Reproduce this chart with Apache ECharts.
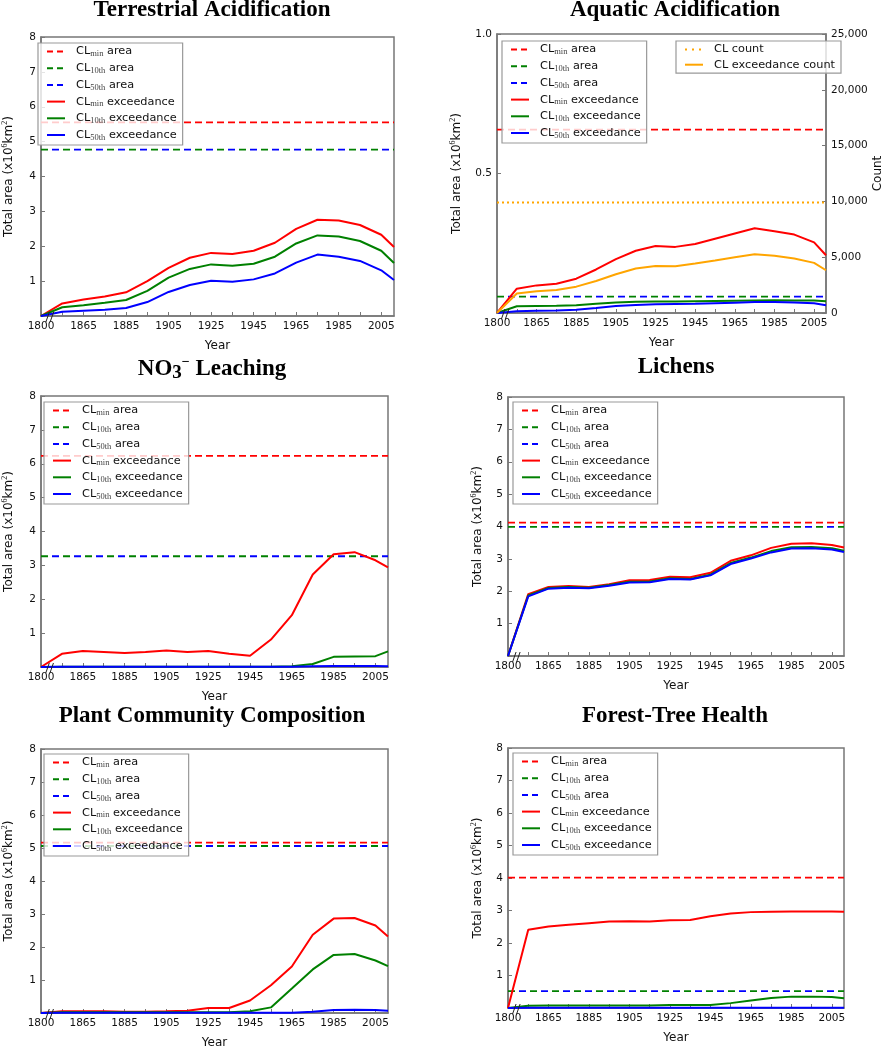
<!DOCTYPE html>
<html>
<head>
<meta charset="utf-8">
<script src="https://cdn.jsdelivr.net/npm/echarts@6/dist/echarts.min.js"></script>
<style>
html,body{margin:0;padding:0;background:#fff;}
#chart{width:885px;height:1050px;}
</style>
</head>
<body>
<div id="chart"></div>
<script>
// ---------- DATA ----------
const years = [1800, 1855, 1865, 1875, 1885, 1895, 1905, 1915, 1925, 1935, 1945, 1955, 1965, 1975, 1985, 1995, 2005, 2011];
const xTickLabels = [1800, 1865, 1885, 1905, 1925, 1945, 1965, 1985, 2005];

const titles = ['Terrestrial Acidification', 'Aquatic Acidification', 'NO3 Leaching', 'Lichens', 'Plant Community Composition', 'Forest-Tree Health'];

// Terrestrial Acidification
const taMin = [0, 0.36, 0.47, 0.56, 0.68, 1.00, 1.38, 1.67, 1.81, 1.78, 1.87, 2.10, 2.50, 2.76, 2.74, 2.61, 2.33, 1.98];
const ta10 = [0, 0.25, 0.31, 0.38, 0.46, 0.72, 1.10, 1.35, 1.48, 1.44, 1.50, 1.70, 2.08, 2.31, 2.28, 2.15, 1.87, 1.52];
const ta50 = [0, 0.12, 0.15, 0.18, 0.23, 0.40, 0.69, 0.89, 1.01, 0.98, 1.05, 1.22, 1.53, 1.76, 1.70, 1.58, 1.31, 1.03];
const taArea = [5.55, 4.77, 4.77];

// Aquatic Acidification
const aaMin = [0, 0.087, 0.099, 0.105, 0.123, 0.156, 0.193, 0.223, 0.240, 0.237, 0.247, 0.266, 0.285, 0.304, 0.293, 0.281, 0.253, 0.207];
const aa10 = [0, 0.024, 0.025, 0.026, 0.028, 0.033, 0.038, 0.040, 0.041, 0.041, 0.042, 0.043, 0.044, 0.045, 0.046, 0.045, 0.045, 0.042];
const aa50 = [0, 0.006, 0.008, 0.009, 0.012, 0.018, 0.025, 0.029, 0.031, 0.032, 0.033, 0.035, 0.037, 0.039, 0.039, 0.038, 0.035, 0.028];
const aaArea = [0.657, 0.059, 0.059];
const aaCount = 9900;
const aaExceedCount = [0, 1740, 1950, 2070, 2360, 2870, 3470, 3980, 4220, 4190, 4430, 4700, 5000, 5270, 5120, 4880, 4490, 3830];

// NO3- Leaching
const noMin = [0, 0.39, 0.47, 0.44, 0.41, 0.44, 0.49, 0.44, 0.47, 0.39, 0.33, 0.81, 1.53, 2.73, 3.33, 3.39, 3.15, 2.94];
const no10 = [0, 0.01, 0.01, 0.01, 0.01, 0.01, 0.01, 0.01, 0.01, 0.01, 0.01, 0.01, 0.02, 0.09, 0.30, 0.31, 0.32, 0.46];
const no50 = [0, 0.01, 0.01, 0.01, 0.01, 0.01, 0.01, 0.01, 0.01, 0.01, 0.01, 0.01, 0.01, 0.02, 0.03, 0.03, 0.03, 0.02];
const noArea = [6.23, 3.27, 3.27];

// Lichens
const liMin = [0, 1.91, 2.13, 2.16, 2.13, 2.22, 2.34, 2.35, 2.45, 2.43, 2.57, 2.94, 3.11, 3.34, 3.47, 3.48, 3.43, 3.35];
const li10 = [0, 1.87, 2.10, 2.13, 2.11, 2.19, 2.29, 2.30, 2.40, 2.38, 2.51, 2.87, 3.04, 3.24, 3.36, 3.37, 3.33, 3.25];
const li50 = [0, 1.84, 2.08, 2.11, 2.09, 2.17, 2.27, 2.28, 2.38, 2.36, 2.49, 2.84, 3.01, 3.20, 3.32, 3.33, 3.29, 3.21];
const liArea = [4.12, 3.99, 3.99];

// Plant Community Composition
const pcMin = [0, 0.05, 0.05, 0.05, 0.04, 0.04, 0.05, 0.07, 0.15, 0.15, 0.38, 0.84, 1.41, 2.37, 2.86, 2.88, 2.65, 2.32];
const pc10 = [0, 0.02, 0.02, 0.02, 0.02, 0.02, 0.02, 0.02, 0.02, 0.02, 0.05, 0.17, 0.74, 1.32, 1.76, 1.79, 1.59, 1.42];
const pc50 = [0, 0.01, 0.01, 0.01, 0.01, 0.01, 0.01, 0.01, 0.01, 0.01, 0.01, 0.01, 0.01, 0.04, 0.09, 0.10, 0.09, 0.07];
const pcArea = [5.16, 5.06, 5.06];

// Forest-Tree Health
const ftMin = [0, 2.41, 2.51, 2.56, 2.61, 2.66, 2.67, 2.66, 2.70, 2.71, 2.82, 2.91, 2.95, 2.96, 2.97, 2.97, 2.97, 2.96];
const ft10 = [0, 0.07, 0.08, 0.08, 0.08, 0.08, 0.08, 0.08, 0.09, 0.09, 0.09, 0.15, 0.23, 0.31, 0.35, 0.35, 0.34, 0.30];
const ft50 = [0, 0.01, 0.01, 0.01, 0.01, 0.01, 0.01, 0.01, 0.01, 0.01, 0.01, 0.01, 0.01, 0.01, 0.01, 0.01, 0.01, 0.01];
const ftArea = [4.01, 0.52, 0.52];

// ---------- LAYOUT / STYLE ----------
const RED = '#ff0000', GREEN = '#008000', BLUE = '#0000ff', ORANGE = '#ffa500';
const AXIS_GRAY = '#777';
const SANS = 'DejaVu Sans';
const SERIF = 'Liberation Serif';

// broken axis: 1800 is drawn where 1845 would be
const BREAK_POS = 1845;
const xPos = y => (y === 1800 ? BREAK_POS : y);
const X_MAX = 2011;

const panels = [
  {grid: {left: 33, top: 37, width: 361, height: 279}, title: {x: 207, y: -6}, legend: {left: 38, top: 43}, min: taMin, p10: ta10, p50: ta50, area: taArea, ymax: 8, yint: 1, yNameGap: 24},
  {grid: {left: 497, top: 34, width: 335, height: 279}, title: {x: 670, y: -6}, legend: {left: 502, top: 41}, min: aaMin, p10: aa10, p50: aa50, area: aaArea, ymax: 1, yint: 0.5, yNameGap: 32, aquatic: true},
  {grid: {left: 39, top: 396, width: 349, height: 271}, title: {x: 207, y: 350}, legend: {left: 44, top: 402}, min: noMin, p10: no10, p50: no50, area: noArea, ymax: 8, yint: 1, yNameGap: 24, no3: true},
  {grid: {left: 508, top: 397, width: 336, height: 259}, title: {x: 671, y: 351}, legend: {left: 513, top: 402}, min: liMin, p10: li10, p50: li50, area: liArea, ymax: 8, yint: 1, yNameGap: 22},
  {grid: {left: 39, top: 749, width: 349, height: 270}, title: {x: 207, y: 700}, legend: {left: 44, top: 754}, min: pcMin, p10: pc10, p50: pc50, area: pcArea, ymax: 8, yint: 1, yNameGap: 24},
  {grid: {left: 508, top: 748, width: 336, height: 260}, title: {x: 670, y: 700}, legend: {left: 513, top: 753}, min: ftMin, p10: ft10, p50: ft50, area: ftArea, ymax: 8, yint: 1, yNameGap: 22}
];

const legendLabels = {
  minArea: '{t|CL}{s|min}{t| area}',
  p10Area: '{t|CL}{s|10th}{t| area}',
  p50Area: '{t|CL}{s|50th}{t| area}',
  minExc: '{t|CL}{s|min}{t| exceedance}',
  p10Exc: '{t|CL}{s|10th}{t| exceedance}',
  p50Exc: '{t|CL}{s|50th}{t| exceedance}',
  count: '{t|CL count}',
  countExc: '{t|CL exceedance count}'
};

const legendRich = {
  t: {fontFamily: SANS, fontSize: 11.3, color: '#111', lineHeight: 14, verticalAlign: 'middle'},
  s: {fontFamily: SERIF, fontSize: 8.5, color: '#444', lineHeight: 14, verticalAlign: 'bottom'}
};

const xTicks = [];
for (let y = BREAK_POS; y <= 2005; y += 10) xTicks.push(y);

const grids = [], xAxes = [], yAxes = [], series = [], legends = [], titleOpts = [];

function lineData(vals) { return years.map((y, i) => [xPos(y), vals[i]]); }
function flatData(v) { return [[xPos(1800), v], [X_MAX, v]]; }

const legendBase = {
  orient: 'vertical', itemWidth: 18, itemHeight: 10, itemGap: 4.2, padding: [3, 6, 3, 8],
  backgroundColor: 'rgba(255,255,255,0.8)', borderColor: '#999', borderWidth: 1.2, borderRadius: 0,
  selectedMode: false, itemStyle: {opacity: 0},
  textStyle: {padding: [0, 0, 0, 6], rich: legendRich}
};

panels.forEach((p, gi) => {
  grids.push(Object.assign({show: true, borderColor: AXIS_GRAY, borderWidth: 1.5, backgroundColor: 'transparent'}, p.grid));
  const name = titles[gi];
  if (p.no3) {
    titleOpts.push({text: '{t|NO}{s|3}{p|\u2212}{t| Leaching}', left: p.title.x, top: p.title.y, textAlign: 'center',
      textStyle: {rich: {
        t: {fontFamily: SERIF, fontWeight: 'bold', fontSize: 23, color: '#000', lineHeight: 28, verticalAlign: 'middle'},
        s: {fontFamily: SERIF, fontWeight: 'bold', fontSize: 19, color: '#000', lineHeight: 28, verticalAlign: 'bottom'},
        p: {fontFamily: SERIF, fontWeight: 'bold', fontSize: 14, color: '#000', lineHeight: 28, verticalAlign: 'top'}
      }}});
  } else {
    titleOpts.push({text: name, left: p.title.x, top: p.title.y, textAlign: 'center',
      textStyle: {fontFamily: SERIF, fontWeight: 'bold', fontSize: 23, color: '#000'}});
  }

  const xi = xAxes.length;
  xAxes.push({
    type: 'value', gridIndex: gi, min: BREAK_POS, max: X_MAX,
    name: 'Year', nameLocation: 'middle', nameGap: 24,
    nameTextStyle: {fontFamily: SANS, fontSize: 12, color: '#111'},
    axisLine: {show: true, lineStyle: {color: AXIS_GRAY, width: 1.5}},
    axisTick: {show: true, inside: true, length: 4, customValues: xTicks, lineStyle: {color: AXIS_GRAY}},
    axisLabel: {customValues: xTickLabels.map(xPos), formatter: v => (v === BREAK_POS ? '1800' : String(v)),
      fontFamily: SANS, fontSize: 10.5, color: '#111', margin: 5},
    splitLine: {show: false}
  });

  const yi = yAxes.length;
  yAxes.push({
    type: 'value', gridIndex: gi, min: 0, max: p.ymax, interval: p.yint, position: 'left',
    name: '{t|Total area (x10}{p|6}{t|km}{p|2}{t|)}', nameLocation: 'middle', nameGap: p.yNameGap, nameRotate: 90,
    nameTextStyle: {rich: {
      t: {fontFamily: SANS, fontSize: 12, color: '#111', lineHeight: 16, verticalAlign: 'middle'},
      p: {fontFamily: SERIF, fontSize: 8, color: '#111', lineHeight: 16, verticalAlign: 'top'}
    }},
    axisLine: {show: true, lineStyle: {color: AXIS_GRAY, width: 1.5}},
    axisTick: {show: true, inside: true, length: 4, lineStyle: {color: AXIS_GRAY}},
    axisLabel: {fontFamily: SANS, fontSize: 10.5, color: '#111', margin: 5,
      formatter: v => (v === 0 ? '' : (p.aquatic ? v.toFixed(1) : String(v)))},
    splitLine: {show: false}
  });

  const pre = 'p' + gi + '_';
  const keys = ['minArea', 'p10Area', 'p50Area', 'minExc', 'p10Exc', 'p50Exc'];
  const common = {type: 'line', xAxisIndex: xi, yAxisIndex: yi, symbol: 'none', silent: true, animation: false};
  series.push(Object.assign({name: pre + 'minArea', data: flatData(p.area[0]), lineStyle: {color: RED, width: 1.8, type: [7, 4]}, itemStyle: {color: RED}}, common));
  series.push(Object.assign({name: pre + 'p10Area', data: flatData(p.area[1]), lineStyle: {color: GREEN, width: 1.8, type: [7, 15]}, itemStyle: {color: GREEN}}, common));
  series.push(Object.assign({name: pre + 'p50Area', data: flatData(p.area[2]), lineStyle: {color: BLUE, width: 1.8, type: [7, 15], dashOffset: 11}, itemStyle: {color: BLUE}}, common));
  series.push(Object.assign({name: pre + 'minExc', data: lineData(p.min), lineStyle: {color: RED, width: 2}, itemStyle: {color: RED}}, common));
  series.push(Object.assign({name: pre + 'p10Exc', data: lineData(p.p10), lineStyle: {color: GREEN, width: 2}, itemStyle: {color: GREEN}}, common));
  series.push(Object.assign({name: pre + 'p50Exc', data: lineData(p.p50), lineStyle: {color: BLUE, width: 2}, itemStyle: {color: BLUE}}, common));

  const legendData = keys.map(k => {
    const d = {name: pre + k};
    d.lineStyle = k.endsWith('Area') ? {type: [6, 4], dashOffset: 0} : {type: 'solid'};
    return d;
  });
  legends.push(Object.assign({}, legendBase, {
    left: p.legend.left, top: p.legend.top, data: legendData,
    formatter: n => legendLabels[n.slice(pre.length)]
  }));

  if (p.aquatic) {
    const yi2 = yAxes.length;
    yAxes.push({
      type: 'value', gridIndex: gi, min: 0, max: 25000, interval: 5000, position: 'right',
      name: 'Count', nameLocation: 'middle', nameGap: 46, nameRotate: 90,
      nameTextStyle: {fontFamily: SANS, fontSize: 12, color: '#111'},
      axisLine: {show: true, lineStyle: {color: AXIS_GRAY, width: 1.5}},
      axisTick: {show: true, inside: true, length: 4, lineStyle: {color: AXIS_GRAY}},
      axisLabel: {fontFamily: SANS, fontSize: 10.5, color: '#111', margin: 5,
        formatter: v => v.toLocaleString('en-US')},
      splitLine: {show: false}
    });
    const c2 = {type: 'line', xAxisIndex: xi, yAxisIndex: yi2, symbol: 'none', silent: true, animation: false};
    series.push(Object.assign({name: pre + 'count', data: flatData(aaCount), lineStyle: {color: ORANGE, width: 1.8, type: [2, 3]}, itemStyle: {color: ORANGE}}, c2));
    series.push(Object.assign({name: pre + 'countExc', data: lineData(aaExceedCount), lineStyle: {color: ORANGE, width: 2}, itemStyle: {color: ORANGE}}, c2));
    legends.push(Object.assign({}, legendBase, {
      left: 676, top: 41,
      data: [{name: pre + 'count', lineStyle: {type: [2, 5]}}, {name: pre + 'countExc', lineStyle: {type: 'solid'}}],
      formatter: n => legendLabels[n.slice(pre.length)]
    }));
  }
});

const chart = echarts.init(document.getElementById('chart'), null, {renderer: 'canvas'});
chart.setOption({
  animation: false,
  backgroundColor: '#fff',
  title: titleOpts,
  grid: grids,
  xAxis: xAxes,
  yAxis: yAxes,
  legend: legends,
  series: series
});

// axis-break marks "//" just right of the 1800 position on each x axis
const breakMarks = [];
panels.forEach((p, gi) => {
  [1848, 1850].forEach(bx => {
    const c = chart.convertToPixel({gridIndex: gi}, [bx, 0]);
    breakMarks.push({type: 'line', silent: true, z: 100,
      shape: {x1: c[0] - 1.5, y1: c[1] + 6, x2: c[0] + 2, y2: c[1] - 4},
      style: {stroke: '#222', lineWidth: 1}});
  });
});
chart.setOption({graphic: breakMarks});
</script>
</body>
</html>
